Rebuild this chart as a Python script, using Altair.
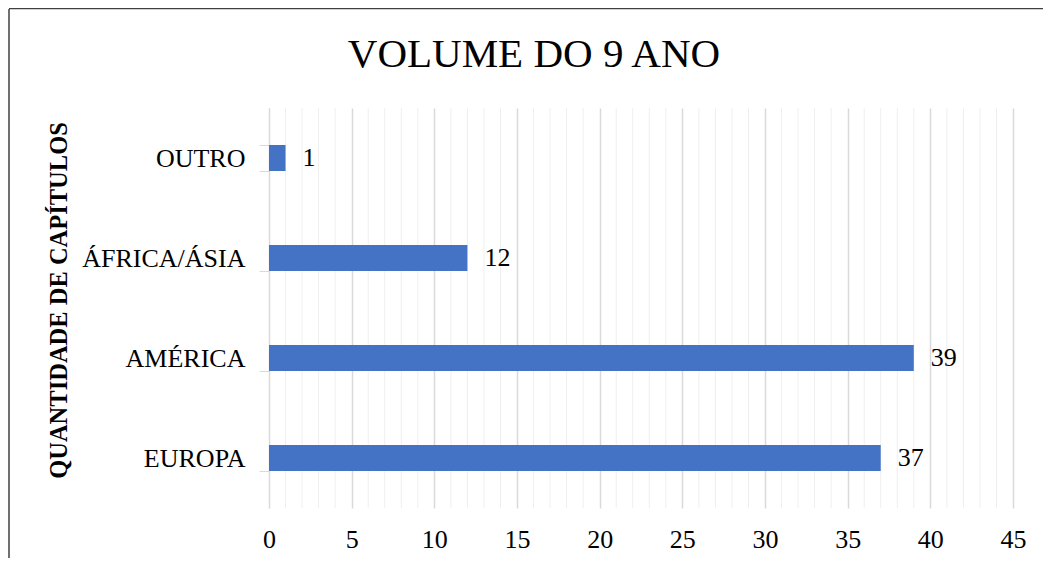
import altair as alt
import pandas as pd

categories = ["OUTRO", "ÁFRICA/ÁSIA", "AMÉRICA", "EUROPA"]
values = [1, 12, 39, 37]
x_ticks = [0, 5, 10, 15, 20, 25, 30, 35, 40, 45]
minor_ticks = [i for i in range(0, 46) if i % 5 != 0]
title_text = "VOLUME DO 9 ANO"

FONT = "Liberation Serif"
W, H = 744, 400

df = pd.DataFrame({"cat": categories, "val": values})
minor_df = pd.DataFrame({"g": minor_ticks})
one = pd.DataFrame({"t": [title_text]})

xscale = alt.Scale(domain=[0, 45], nice=False, zero=True)
yscale = alt.Scale(domain=categories, paddingInner=0.74, paddingOuter=0.37)

x_axis = alt.Axis(
    title=None,
    values=x_ticks,
    labelFont=FONT,
    labelFontSize=26,
    labelColor="#000000",
    labelPadding=18,
    labelFlush=False,
    ticks=False,
    domain=False,
    grid=True,
    gridColor="#d9d9d9",
    gridWidth=1.5,
)

minor = alt.Chart(minor_df).mark_rule(color="#efefef", strokeWidth=1).encode(
    x=alt.X("g:Q", scale=xscale, axis=x_axis),
    y=alt.value(0),
    y2=alt.value(H),
)

base = alt.Chart(df).encode(
    y=alt.Y(
        "cat:N",
        sort=categories,
        scale=yscale,
        axis=alt.Axis(
            title="QUANTIDADE DE CAPÍTULOS",
            titleFont=FONT,
            titleFontSize=24.5,
            titleFontWeight="bold",
            titleColor="#000000",
            titleAngle=-90,
            titleX=-210,
            titleY=192,
            titleAlign="center",
            titleBaseline="middle",
            labelFont=FONT,
            labelFontSize=26,
            labelColor="#000000",
            labelPadding=14,
            tickBand="extent",
            tickSize=10,
            tickColor="#d9d9d9",
            domainColor="#d9d9d9",
            grid=False,
        ),
    )
)

bars = base.mark_bar(color="#4472C4").encode(
    x=alt.X("val:Q", scale=xscale, axis=x_axis)
)

labels = base.mark_text(
    align="left", baseline="middle", dx=17, font=FONT, fontSize=26, color="#000000"
).encode(x=alt.X("val:Q", scale=xscale), text="val:Q")

title = alt.Chart(one).mark_text(
    align="center", baseline="alphabetic", font=FONT, fontSize=41, color="#000000"
).encode(x=alt.value(265), y=alt.value(-41), text="t:N")

border_left = alt.Chart(one).mark_rule(color="#404040", strokeWidth=1.5).encode(
    x=alt.value(-260), x2=alt.value(-260), y=alt.value(-99), y2=alt.value(460)
)
border_top = alt.Chart(one).mark_rule(color="#404040", strokeWidth=1.5).encode(
    x=alt.value(-260), x2=alt.value(800), y=alt.value(-99.5), y2=alt.value(-99.5)
)

chart = (
    alt.layer(minor, bars, labels, title, border_left, border_top)
    .properties(
        width=W,
        height=H,
        padding={"left": 261, "top": 100, "right": 30, "bottom": 50},
        autosize=alt.AutoSizeParams(type="none"),
        view=alt.ViewBackground(strokeWidth=0, strokeOpacity=0),
    )
    .configure_view(strokeWidth=0, strokeOpacity=0)
    .configure(background="white")
)

chart.save("out.html", embed_options={"renderer": "svg", "actions": False})
